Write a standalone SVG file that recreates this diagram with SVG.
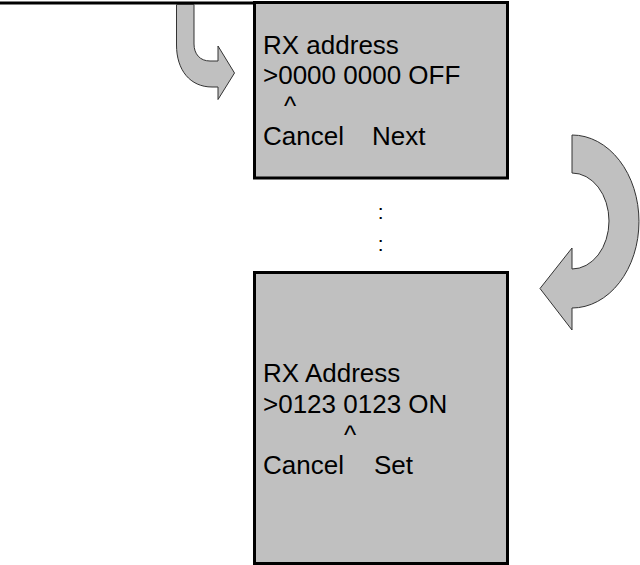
<svg xmlns="http://www.w3.org/2000/svg" width="640" height="565" viewBox="0 0 640 565">
<style>
.box{fill:#c0c0c0;stroke:#000;stroke-width:3}
.arrow{fill:#c0c0c0;stroke:#333;stroke-width:1;stroke-linejoin:miter}
.t{font-family:"Liberation Sans",Arial,sans-serif;font-size:26px;fill:#000}
.dots{font-family:"Liberation Sans",Arial,sans-serif;font-size:21px;fill:#000;text-anchor:middle}
</style>
<rect width="640" height="565" fill="#fff"/>
<g id="connectors">
<line x1="0" y1="3" x2="256" y2="3" stroke="#000" stroke-width="3"/>
<path class="arrow" d="M176.5,4.5 L194,4.5 L194,44 C194,54 200,61 210,61 L218,61 L218,46 L234.5,73 L218,99.5 L218,87 L212,87 C190,87 176.5,70 176.5,45 Z"/>
<path class="arrow" d="M572,135 A67,86.5 0 0 1 572,308 L572,330 L540,288.5 L572,248 L572,269 A37,48 0 0 0 572,173 Z"/>
</g>
<g id="node1">
<rect class="box" x="254.5" y="2.5" width="253" height="175.5"/>
<text class="t" x="263" y="54">RX address</text>
<text class="t" x="263" y="84">&gt;0000 0000 OFF</text>
<text class="t" x="284" y="114.5">^</text>
<text class="t" x="263" y="145">Cancel</text>
<text class="t" x="372" y="145">Next</text>
</g>
<g id="ellipsis">
<text class="dots" x="380.7" y="218.5">:</text>
<text class="dots" x="380.7" y="250.5">:</text>
</g>
<g id="node2">
<rect class="box" x="254.5" y="272.5" width="253" height="291"/>
<text class="t" x="263" y="382">RX Address</text>
<text class="t" x="263" y="412.5">&gt;0123 0123 ON</text>
<text class="t" x="344" y="443.5">^</text>
<text class="t" x="263" y="473.5">Cancel</text>
<text class="t" x="374" y="473.5">Set</text>
</g>
</svg>
